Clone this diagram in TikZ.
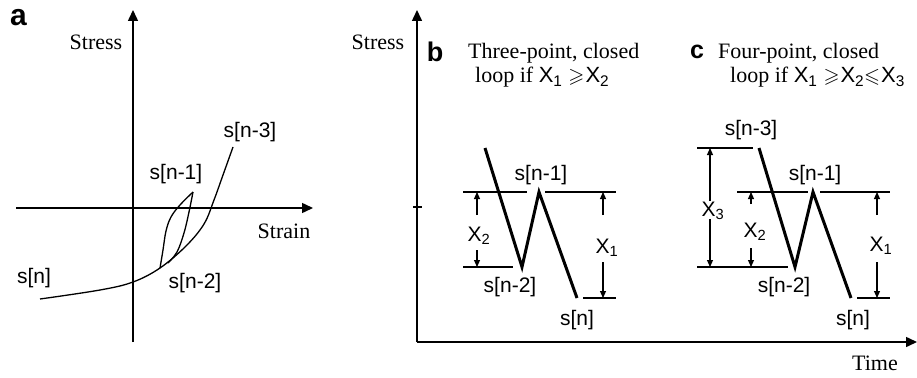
\documentclass[tikz,border=0pt]{standalone}
\usepackage{fontspec}
\usepackage{amssymb}
\setmainfont{Liberation Serif}
\newfontfamily\hv{Liberation Sans}
\usetikzlibrary{arrows.meta}
\newcommand\Xs[1]{{\hv X\textsubscript{#1}}}
\newcommand\mygeq{\resizebox{16pt}{!}{$\geqslant$}}
\newcommand\myleq{\resizebox{16pt}{!}{$\leqslant$}}
\tikzset{
  axis/.style={line width=1.5pt,-{Triangle[length=11pt,width=10pt]}},
  guide/.style={line width=1.1pt},
  curve/.style={line width=1.3pt},
  zig/.style={line width=3pt,line join=miter},
  dim/.style={line width=1.1pt,-{Triangle[length=7pt,width=6pt]}},
  lbl/.style={font=\hv\fontsize{21}{21}\selectfont,inner sep=0pt},
  ser/.style={font=\fontsize{22}{24}\selectfont,inner sep=0pt},
  pan/.style={font=\hv\bfseries\fontsize{27}{27}\selectfont,inner sep=0pt},
}
\begin{document}
\begin{tikzpicture}[x=1pt,y=-1pt]
\useasboundingbox (0,0) rectangle (917,377);
% ---------------- panel a
\coordinate (ay0) at (133,342); \coordinate (ay1) at (133,10);
\coordinate (ax0) at (16,208);  \coordinate (ax1) at (313,208);
\draw[axis] (ay0) -- (ay1);
\draw[axis] (ax0) -- (ax1);
\node[pan,font=\hv\bfseries\fontsize{30}{30}\selectfont] (pa) at (18.5,18) {a};
\node[ser,anchor=base] (stressa) at (96,50) {Stress};
\node[ser,anchor=base] (straina) at (284,238) {Strain};
\draw[curve] plot[smooth,tension=0.6] coordinates
  {(40,299) (100,290) (133,282) (160,268) (186,246) (204,224) (214,200) (223,175) (233,147)};
\draw[curve] plot[smooth,tension=0.6] coordinates
  {(160,268) (163,250) (166,231) (171,217) (180,205) (193,192)};
\draw[curve] plot[smooth,tension=0.6] coordinates
  {(193,192) (189,212) (184,233) (177,252) (168,263)};
\node[lbl] (a3) at (250,132) {s[n-3]};
\node[lbl] (a1) at (176,174) {s[n-1]};
\node[lbl] (an) at (34,278) {s[n]};
\node[lbl] (a2) at (195,283) {s[n-2]};
% ---------------- panels b, c axes
\coordinate (o) at (417,342);
\coordinate (ty) at (417,10);
\coordinate (tx) at (917,342);
\draw[axis] (o) -- (ty);
\draw[axis] (o) -- (tx);
\coordinate (tk0) at (413,207); \coordinate (tk1) at (422,207);
\draw[guide] (tk0) -- (tk1);
\node[ser,anchor=base] (stressb) at (378,50) {Stress};
\node[ser,anchor=base] (time) at (875,370) {Time};
% ---------------- panel b
\node[pan] (pb) at (435,52) {b};
\node[ser,anchor=base west,align=left] (tb) at (468,83)
  {Three-point, closed\\\hspace*{7pt}loop if \Xs{1}\hspace{6pt}\mygeq\hspace{1pt}\Xs{2}};
\coordinate (b0) at (485,148); \coordinate (b1) at (522,267);
\coordinate (b2) at (539,192); \coordinate (b3) at (577,298);
\draw[zig] (b0) -- (b1) -- (b2) -- (b3);
\coordinate (bl1) at (463,192); \coordinate (bl2) at (527,192);
\coordinate (bl3) at (545,192); \coordinate (bl4) at (616,192);
\coordinate (bl5) at (463,267); \coordinate (bl6) at (513,267);
\coordinate (bl7) at (583,298); \coordinate (bl8) at (616,298);
\draw[guide] (bl1) -- (bl2) (bl3) -- (bl4) (bl5) -- (bl6) (bl7) -- (bl8);
\node[lbl] (bx2) at (479,236) {X\textsubscript{2}};
\coordinate (bx2t) at (477,192); \coordinate (bx2b) at (477,267);
\coordinate (bx2u) at (477,215); \coordinate (bx2d) at (477,250);
\draw[dim] (bx2u) -- (bx2t);
\draw[dim] (bx2d) -- (bx2b);
\node[lbl] (bx1) at (607,248) {X\textsubscript{1}};
\coordinate (bx1t) at (603,192); \coordinate (bx1b) at (603,298);
\coordinate (bx1u) at (603,215); \coordinate (bx1d) at (603,262);
\draw[dim] (bx1u) -- (bx1t);
\draw[dim] (bx1d) -- (bx1b);
\node[lbl] (b1l) at (541,175) {s[n-1]};
\node[lbl] (b2l) at (510,287) {s[n-2]};
\node[lbl] (bnl) at (577,320) {s[n]};
% ---------------- panel c
\node[pan,font=\hv\bfseries\fontsize{25}{25}\selectfont] (pc) at (697,51.5) {c};
\node[ser,anchor=base west,align=left] (tc) at (718,83)
  {Four-point, closed\\\hspace*{12pt}loop if \Xs{1}\hspace{6pt}\mygeq\hspace{1pt}\Xs{2}\myleq\hspace{1pt}\Xs{3}};
\coordinate (c0) at (759,148); \coordinate (c1) at (795,267);
\coordinate (c2) at (813,192); \coordinate (c3) at (851,298);
\draw[zig] (c0) -- (c1) -- (c2) -- (c3);
\coordinate (cl1) at (697,148); \coordinate (cl2) at (753,148);
\coordinate (cl3) at (737,192); \coordinate (cl4) at (808,192);
\coordinate (cl5) at (820,192); \coordinate (cl6) at (890,192);
\coordinate (cl7) at (697,267); \coordinate (cl8) at (788,267);
\coordinate (cl9) at (857,298); \coordinate (cl10) at (890,298);
\draw[guide] (cl1) -- (cl2) (cl3) -- (cl4) (cl5) -- (cl6) (cl7) -- (cl8) (cl9) -- (cl10);
\node[lbl] (cx3) at (713,211) {X\textsubscript{3}};
\coordinate (cx3t) at (710,148); \coordinate (cx3b) at (710,267);
\coordinate (cx3u) at (710,201); \coordinate (cx3d) at (710,219);
\draw[dim] (cx3u) -- (cx3t);
\draw[dim] (cx3d) -- (cx3b);
\node[lbl] (cx2) at (755,232) {X\textsubscript{2}};
\coordinate (cx2t) at (751,192); \coordinate (cx2b) at (751,267);
\coordinate (cx2u) at (751,204); \coordinate (cx2d) at (751,248);
\draw[dim] (cx2u) -- (cx2t);
\draw[dim] (cx2d) -- (cx2b);
\node[lbl] (cx1) at (881,246) {X\textsubscript{1}};
\coordinate (cx1t) at (877,192); \coordinate (cx1b) at (877,298);
\coordinate (cx1u) at (877,215); \coordinate (cx1d) at (877,262);
\draw[dim] (cx1u) -- (cx1t);
\draw[dim] (cx1d) -- (cx1b);
\node[lbl] (c3l) at (751,130) {s[n-3]};
\node[lbl] (c1l) at (815,175) {s[n-1]};
\node[lbl] (c2l) at (784,287) {s[n-2]};
\node[lbl] (cnl) at (853,320) {s[n]};
\end{tikzpicture}
\end{document}
